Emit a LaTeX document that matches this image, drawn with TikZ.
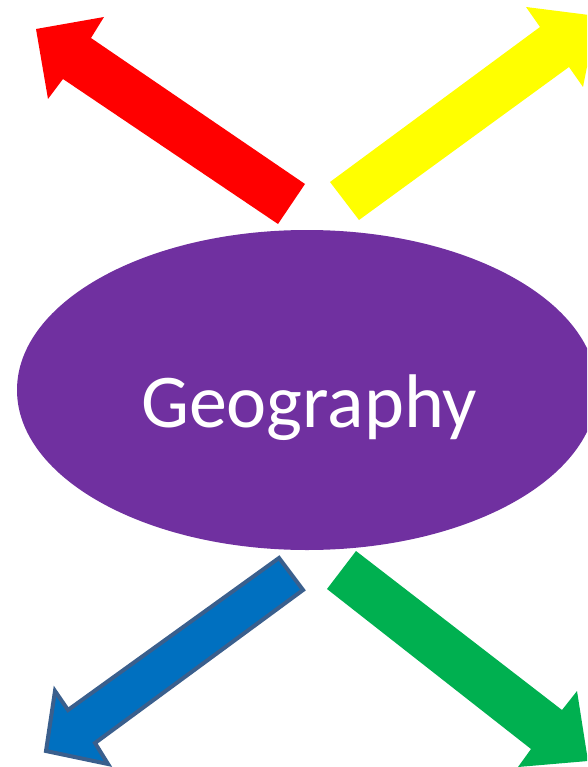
\documentclass[tikz,border=0pt]{standalone}
\usepackage{fontspec}
\setmainfont{Carlito}
\usetikzlibrary{shapes.geometric}
\definecolor{geopurple}{HTML}{7030A0}
\definecolor{arrred}{HTML}{FF0000}
\definecolor{arryellow}{HTML}{FFFF00}
\definecolor{arrblue}{HTML}{0070C0}
\definecolor{arrblueedge}{HTML}{3A5F8D}
\definecolor{arrgreen}{HTML}{00B050}
\tikzset{
  hub/.style={ellipse, fill=geopurple, draw=none, minimum width=580pt, minimum height=320pt, inner sep=0pt},
  hublabel/.style={anchor=base, text=white, font=\fontsize{76}{80}\selectfont, inner sep=0pt},
  blockarrow/.style={draw=none, line join=miter},
}
\begin{document}
\begin{tikzpicture}[x=1pt,y=-1pt]
\useasboundingbox (0,0) rectangle (587,767);
\clip (0,0) rectangle (587,767);
\node[hub] (geo) at (307,390) {};
\node[hublabel] (lbl) at (309,427) {Geography};
% red arrow (up-left)
\coordinate (rtip) at (36,29);
\fill[arrred, blockarrow] (305,184) -- (91,38) -- (104,17) -- (rtip) -- (48,99) -- (63,79) -- (278,224) -- cycle;
% yellow arrow (up-right)
\coordinate (ytip) at (597,16);
\fill[arryellow, blockarrow] (330,182) -- (540,27) -- (526,7) -- (ytip) -- (583,87) -- (569,67) -- (359,220) -- cycle;
% blue arrow (down-left)
\coordinate (btip) at (46,751);
\filldraw[fill=arrblue, draw=arrblueedge, line width=4pt, line join=miter] (279,558) -- (303,590) -- (95,743) -- (108,764) -- (btip) -- (55,691) -- (68,710) -- cycle;
% green arrow (down-right)
\coordinate (gtip) at (588,761);
\fill[arrgreen, blockarrow] (356,551) -- (562,710) -- (577,691) -- (gtip) -- (518,767) -- (531,749) -- (327,589) -- cycle;
\end{tikzpicture}
\end{document}
